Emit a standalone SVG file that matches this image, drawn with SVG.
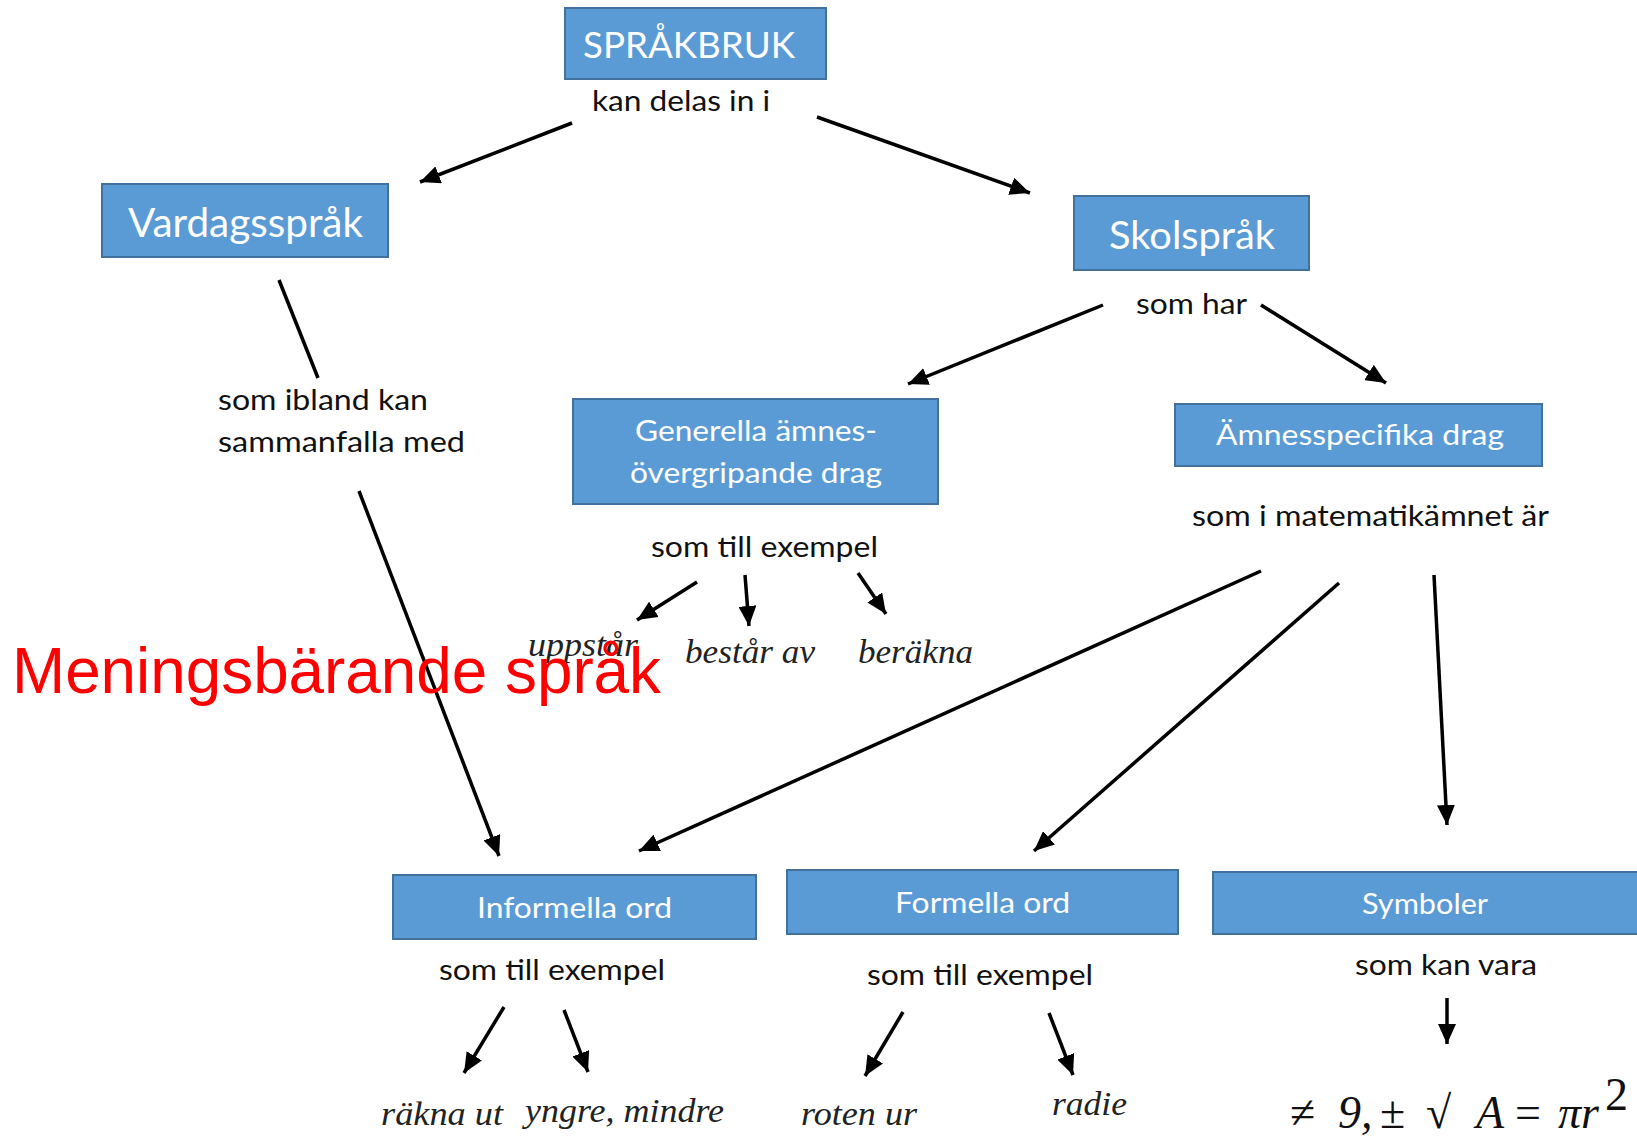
<svg xmlns="http://www.w3.org/2000/svg" width="1637" height="1137" viewBox="0 0 1637 1137">
<style>
.box{fill:#5B9BD5;stroke:#41719C;stroke-width:2}
.bt{font-family:Lato,"Open Sans",sans-serif;fill:#fff;text-anchor:start}
.lb{font-family:Lato,"Open Sans",sans-serif;fill:#111;font-size:28px}
.it{font-family:"Liberation Serif",serif;font-style:italic;fill:#222;font-size:34px}
.ln{stroke:#000;stroke-width:3.5;fill:none}
.m{font-family:"Liberation Serif","DejaVu Serif",serif;fill:#111;font-size:46px}
</style>
<defs>
<marker id="ah" markerUnits="userSpaceOnUse" markerWidth="22" markerHeight="18" refX="20" refY="9" orient="auto">
<path d="M0,0 L20,9 L0,18 Z" fill="#000"/>
</marker>
</defs>
<rect width="1637" height="1137" fill="#fff"/>

<g id="sprakbruk">
<rect class="box" x="565" y="8" width="261" height="71"/>
<text class="bt" x="583" y="58" font-size="37" textLength="212" lengthAdjust="spacingAndGlyphs">SPRÅKBRUK</text>
<text class="lb" x="592" y="111" textLength="178" lengthAdjust="spacingAndGlyphs">kan delas in i</text>
</g>

<g id="vardagssprak">
<rect class="box" x="102" y="184" width="286" height="73"/>
<text class="bt" x="128" y="237" font-size="40" textLength="235" lengthAdjust="spacingAndGlyphs">Vardagsspråk</text>
<text class="lb" x="218" y="410" textLength="210" lengthAdjust="spacingAndGlyphs">som ibland kan</text>
<text class="lb" x="218" y="452" textLength="247" lengthAdjust="spacingAndGlyphs">sammanfalla med</text>
</g>

<g id="skolsprak">
<rect class="box" x="1074" y="196" width="235" height="74"/>
<text class="bt" x="1109" y="249" font-size="39" textLength="166" lengthAdjust="spacingAndGlyphs">Skolspråk</text>
<text class="lb" x="1136" y="314" textLength="111" lengthAdjust="spacingAndGlyphs">som har</text>
</g>

<g id="generella">
<rect class="box" x="573" y="399" width="365" height="105"/>
<text class="bt" x="635" y="441" font-size="29" textLength="242" lengthAdjust="spacingAndGlyphs">Generella ämnes-</text>
<text class="bt" x="630" y="483" font-size="29" textLength="252" lengthAdjust="spacingAndGlyphs">övergripande drag</text>
<text class="lb" x="651" y="557" textLength="227" lengthAdjust="spacingAndGlyphs">som till exempel</text>
</g>

<g id="amnesspecifika">
<rect class="box" x="1175" y="404" width="367" height="62"/>
<text class="bt" x="1216" y="445" font-size="29" textLength="288" lengthAdjust="spacingAndGlyphs">Ämnesspecifika drag</text>
<text class="lb" x="1192" y="526" textLength="357" lengthAdjust="spacingAndGlyphs">som i matematikämnet är</text>
</g>

<g id="gen-examples">
<text class="it" x="528" y="656" textLength="110" lengthAdjust="spacingAndGlyphs">uppstår</text>
<text class="it" x="685" y="663" textLength="130" lengthAdjust="spacingAndGlyphs">består av</text>
<text class="it" x="858" y="663" textLength="115" lengthAdjust="spacingAndGlyphs">beräkna</text>
</g>

<g id="informella">
<rect class="box" x="393" y="875" width="363" height="64"/>
<text class="bt" x="477" y="918" font-size="29" textLength="195" lengthAdjust="spacingAndGlyphs">Informella ord</text>
<text class="lb" x="439" y="980" textLength="226" lengthAdjust="spacingAndGlyphs">som till exempel</text>
<text class="it" x="381" y="1125" textLength="122" lengthAdjust="spacingAndGlyphs">räkna ut</text>
<text class="it" x="525" y="1122" textLength="199" lengthAdjust="spacingAndGlyphs">yngre, mindre</text>
</g>

<g id="formella">
<rect class="box" x="787" y="870" width="391" height="64"/>
<text class="bt" x="895" y="913" font-size="29" textLength="175" lengthAdjust="spacingAndGlyphs">Formella ord</text>
<text class="lb" x="867" y="985" textLength="226" lengthAdjust="spacingAndGlyphs">som till exempel</text>
<text class="it" x="801" y="1125" textLength="116" lengthAdjust="spacingAndGlyphs">roten ur</text>
<text class="it" x="1052" y="1115" textLength="75" lengthAdjust="spacingAndGlyphs">radie</text>
</g>

<g id="symboler">
<rect class="box" x="1213" y="872" width="430" height="62"/>
<text class="bt" x="1362" y="914" font-size="29" textLength="126" lengthAdjust="spacingAndGlyphs">Symboler</text>
<text class="lb" x="1355" y="975" textLength="182" lengthAdjust="spacingAndGlyphs">som kan vara</text>
<g id="math">
<text class="m" x="1290" y="1128">≠</text>
<text class="m" x="1338" y="1128" font-style="italic">9,</text>
<text class="m" x="1380" y="1128">±</text>
<text class="m" x="1426" y="1128">√</text>
<text class="m" x="1476" y="1128" font-style="italic">A</text>
<text class="m" x="1515" y="1128">=</text>
<text class="m" x="1558" y="1128" font-style="italic">πr</text>
<text class="m" x="1605" y="1110" font-size="30">2</text>
</g>
</g>

<g id="connectors">
<line class="ln" x1="572" y1="123" x2="420" y2="182" marker-end="url(#ah)"/>
<line class="ln" x1="817" y1="117" x2="1030" y2="193" marker-end="url(#ah)"/>
<line class="ln" x1="279" y1="280" x2="318" y2="378"/>
<line class="ln" x1="359" y1="491" x2="499" y2="856" marker-end="url(#ah)"/>
<line class="ln" x1="1103" y1="305" x2="908" y2="384" marker-end="url(#ah)"/>
<line class="ln" x1="1261" y1="305" x2="1386" y2="383" marker-end="url(#ah)"/>
<line class="ln" x1="697" y1="582" x2="637" y2="620" marker-end="url(#ah)"/>
<line class="ln" x1="745" y1="575" x2="749" y2="626" marker-end="url(#ah)"/>
<line class="ln" x1="858" y1="573" x2="886" y2="614" marker-end="url(#ah)"/>
<line class="ln" x1="1261" y1="571" x2="639" y2="851" marker-end="url(#ah)"/>
<line class="ln" x1="1339" y1="583" x2="1034" y2="851" marker-end="url(#ah)"/>
<line class="ln" x1="1434" y1="575" x2="1447" y2="825" marker-end="url(#ah)"/>
<line class="ln" x1="504" y1="1007" x2="464" y2="1073" marker-end="url(#ah)"/>
<line class="ln" x1="564" y1="1010" x2="588" y2="1072" marker-end="url(#ah)"/>
<line class="ln" x1="903" y1="1012" x2="865" y2="1076" marker-end="url(#ah)"/>
<line class="ln" x1="1049" y1="1013" x2="1073" y2="1075" marker-end="url(#ah)"/>
<line class="ln" x1="1447" y1="998" x2="1447" y2="1044" marker-end="url(#ah)"/>
</g>

<text x="12" y="693" font-family="'Liberation Sans',Arial,sans-serif" font-size="64" fill="#FF0000" textLength="649" lengthAdjust="spacingAndGlyphs">Meningsbärande språk</text>
</svg>
